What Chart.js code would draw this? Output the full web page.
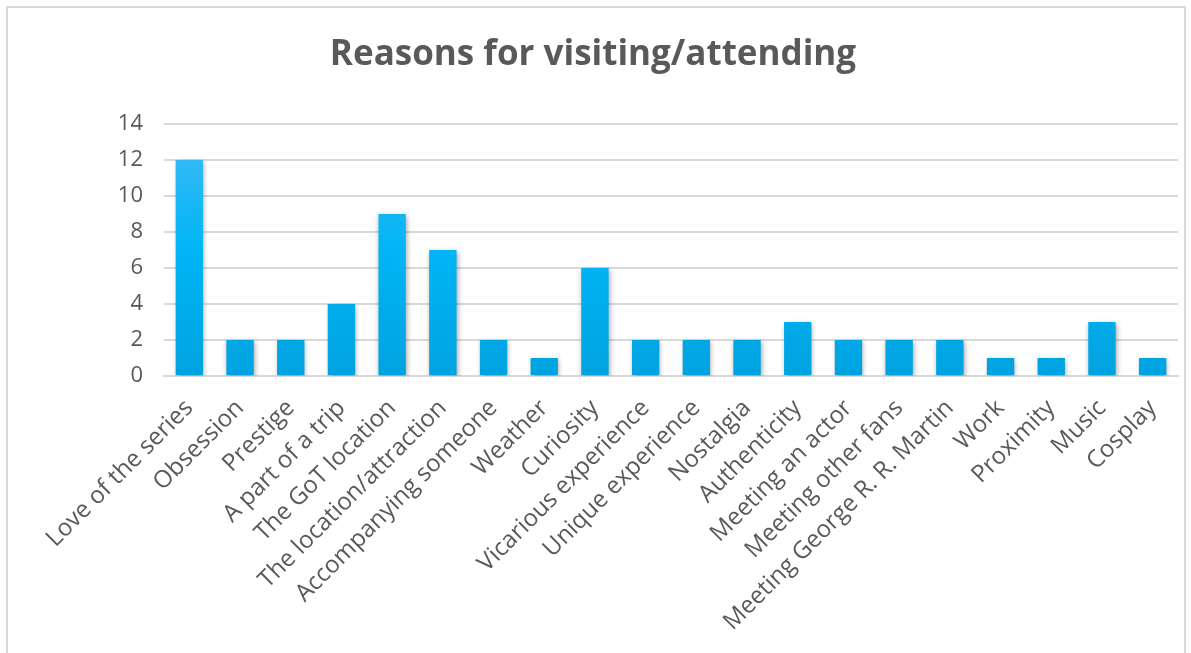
<!DOCTYPE html>
<html>
<head>
<meta charset="utf-8">
<script src="https://cdn.jsdelivr.net/npm/chart.js@4.4.0/dist/chart.umd.min.js"></script>
<style>
  html, body { margin: 0; padding: 0; background: #fff; overflow: hidden; }
  #marco {
    position: absolute; left: 6px; top: 6px;
    width: 1180px; height: 700px;
    border: 2px solid #d9d9d9; box-sizing: border-box;
  }
  #grafico { position: absolute; left: 0; top: 0; }
</style>
</head>
<body>
<div id="marco"><canvas id="grafico" width="1176" height="696"></canvas></div>
<script>
const categorias = [
  "Love of the series", "Obsession", "Prestige", "A part of a trip", "The GoT location",
  "The location/attraction", "Accompanying someone", "Weather", "Curiosity",
  "Vicarious experience", "Unique experience", "Nostalgia", "Authenticity",
  "Meeting an actor", "Meeting other fans", "Meeting George R. R. Martin",
  "Work", "Proximity", "Music", "Cosplay"
];
const valores = [12, 2, 2, 4, 9, 7, 2, 1, 6, 2, 2, 2, 3, 2, 2, 2, 1, 1, 3, 1];
const ticksY = [0, 2, 4, 6, 8, 10, 12, 14];

// Degradado vertical de las barras (claro arriba, más oscuro abajo)
function degradado(context) {
  const chart = context.chart;
  const area = chart.chartArea;
  if (!area) return '#00b0f0';
  const el = context.element;
  const top = el && el.y !== undefined ? el.y : area.top;
  const base = el && el.base !== undefined ? el.base : area.bottom;
  const g = chart.ctx.createLinearGradient(0, top, 0, base);
  g.addColorStop(0, '#45bbf4');
  g.addColorStop(0.5, '#00b5f6');
  g.addColorStop(1, '#00a3df');
  return g;
}

// Sombra suave debajo de las barras
const sombra = {
  id: 'sombra',
  beforeDatasetsDraw(chart) {
    const ctx = chart.ctx;
    ctx.save();
    ctx.shadowColor = 'rgba(0,0,0,0.35)';
    ctx.shadowBlur = 5;
    ctx.shadowOffsetX = 1;
    ctx.shadowOffsetY = 2;
  },
  afterDatasetsDraw(chart) {
    chart.ctx.restore();
  }
};

const ctx = document.getElementById('grafico').getContext('2d');
new Chart(ctx, {
  type: 'bar',
  data: {
    labels: categorias,
    datasets: [{
      data: valores,
      backgroundColor: degradado,
      borderWidth: 0,
      categoryPercentage: 1,
      barPercentage: 0.54
    }]
  },
  plugins: [sombra],
  options: {
    responsive: false,
    animation: false,
    layout: { padding: { top: 0, right: 6, left: 0, bottom: 0 } },
    plugins: {
      legend: { display: false },
      tooltip: { enabled: false },
      title: {
        display: true,
        text: 'Reasons for visiting/attending',
        color: '#595959',
        font: { family: 'Open Sans', size: 35, weight: 'bold' },
        padding: { top: 26, bottom: 48 }
      }
    },
    scales: {
      x: {
        grid: { display: false, drawTicks: false },
        border: { display: true, color: '#d9d9d9', width: 2 },
        ticks: {
          color: '#595959',
          font: { family: 'Open Sans', size: 24 },
          minRotation: 45,
          maxRotation: 45,
          autoSkip: false,
          padding: 18
        },
        afterFit(scale) {
          scale.height = 328;
          scale.paddingLeft = 0;
          scale.paddingRight = 0;
        }
      },
      y: {
        min: 0,
        max: 14,
        afterBuildTicks(scale) { scale.ticks = ticksY.map(v => ({ value: v })); },
        grid: { color: '#d9d9d9', lineWidth: 2, drawTicks: false },
        border: { display: false },
        ticks: {
          color: '#595959',
          font: { family: 'Open Sans', size: 22 },
          padding: 21
        },
        afterFit(scale) { scale.width = 156; }
      }
    }
  }
});
</script>
</body>
</html>
